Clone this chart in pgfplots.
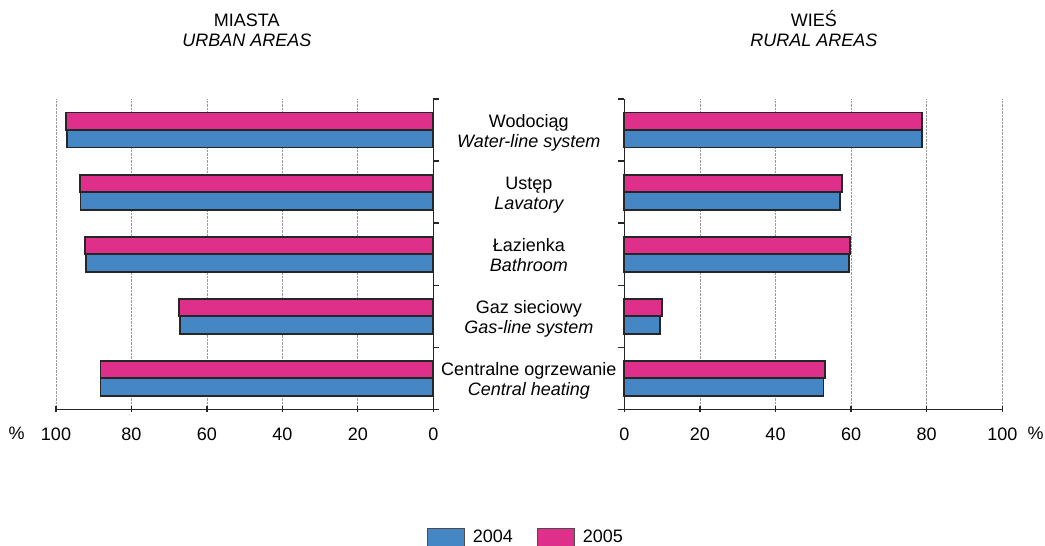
\documentclass[border=0pt]{standalone}
\usepackage{fontspec}
\setmainfont{Liberation Sans}
\usepackage{pgfplots}
\usepackage{pgfplotstable}
\pgfplotsset{compat=1.18}
\definecolor{cpink}{RGB}{222,48,138}
\definecolor{cblue}{RGB}{69,134,197}
\newcommand\fs{\fontsize{18}{20}\selectfont}

\pgfplotstableread{
y u2004 u2005 r2004 r2005
4 -97.1 -97.3 78.8 78.7
3 -93.5 -93.7 57.1 57.5
2 -92.1 -92.3 59.4 59.8
1 -67.2 -67.4 9.5 9.9
0 -88.2 -88.2 52.7 53.1
}\data

\begin{document}
\begin{tikzpicture}
\useasboundingbox (0pt,0pt) rectangle (1045pt,546pt);
\pgfplotsset{common/.style={
  scale only axis, height=310.3pt, anchor=south west,
  ymin=-0.5, ymax=4.5,
  xbar, bar width=17.5pt,
  ytick={-0.5,0.5,1.5,2.5,3.5,4.5}, yticklabels={},
  ytick align=outside, xtick align=center, major tick length=6pt,
  axis x line*=bottom,
  axis line style={-, line width=1.3pt, black!85},
  every tick/.style={black!85, line width=1.3pt},
  xmajorgrids, grid style={densely dotted, gray!80, line width=0.8pt},
  /pgf/number format/assume math mode=true,
  xticklabel style={font=\fs, anchor=base, yshift=-28pt},
  clip=false,
}}
\begin{axis}[common, at={(56pt,136.7pt)}, width=377.3pt,
  xmin=-100, xmax=0, axis y line*=right,
  xtick={-100,-80,-60,-40,-20,0}, xticklabels={100,80,60,40,20,0}]
\addplot[fill=cblue, draw=black!85, line width=1.9pt, bar shift=-8.75pt] table[x=u2004,y=y]{\data};
\addplot[fill=cpink, draw=black!85, line width=1.9pt, bar shift=8.75pt] table[x=u2005,y=y]{\data};
\end{axis}
\begin{axis}[common, at={(624.3pt,136.7pt)}, width=378pt,
  xmin=0, xmax=100, axis y line*=left,
  xtick={0,20,40,60,80,100}]
\addplot[fill=cblue, draw=black!85, line width=1.9pt, bar shift=-8.75pt] table[x=r2004,y=y]{\data};
\addplot[fill=cpink, draw=black!85, line width=1.9pt, bar shift=8.75pt] table[x=r2005,y=y]{\data};
\node[anchor=base, font=\fs] at ([xshift=-95.5pt,yshift=2.5pt]axis cs:0,4) {Wodociąg};
\node[anchor=base, font=\fs\itshape] at ([xshift=-95.5pt,yshift=-17.5pt]axis cs:0,4) {Water-line system};
\node[anchor=base, font=\fs] at ([xshift=-95.5pt,yshift=2.5pt]axis cs:0,3) {Ustęp};
\node[anchor=base, font=\fs\itshape] at ([xshift=-95.5pt,yshift=-17.5pt]axis cs:0,3) {Lavatory};
\node[anchor=base, font=\fs] at ([xshift=-95.5pt,yshift=2.5pt]axis cs:0,2) {Łazienka};
\node[anchor=base, font=\fs\itshape] at ([xshift=-95.5pt,yshift=-17.5pt]axis cs:0,2) {Bathroom};
\node[anchor=base, font=\fs] at ([xshift=-95.5pt,yshift=2.5pt]axis cs:0,1) {Gaz sieciowy};
\node[anchor=base, font=\fs\itshape] at ([xshift=-95.5pt,yshift=-17.5pt]axis cs:0,1) {Gas-line system};
\node[anchor=base, font=\fs] at ([xshift=-95.5pt,yshift=2.5pt]axis cs:0,0) {Centralne ogrzewanie};
\node[anchor=base, font=\fs\itshape] at ([xshift=-95.5pt,yshift=-17.5pt]axis cs:0,0) {Central heating};
\end{axis}
% titles
\node[anchor=base, font=\fs] at (246.8pt,519.3pt) {MIASTA};
\node[anchor=base, font=\fs\itshape] at (246.8pt,499.3pt) {URBAN AREAS};
\node[anchor=base, font=\fs] at (813.8pt,519.3pt) {WIEŚ};
\node[anchor=base, font=\fs\itshape] at (813.8pt,499.3pt) {RURAL AREAS};
% percent signs
\node[anchor=base, font=\fs] at (16.7pt,106pt) {\%};
\node[anchor=base, font=\fs] at (1035.7pt,106pt) {\%};
% legend
\filldraw[fill=cblue, draw=gray!60!black, line width=0.8pt] (427.7pt,-5pt) rectangle (464.3pt,17.7pt);
\node[anchor=base west, inner sep=0pt, font=\fs] at (472.7pt,3pt) {2004};
\filldraw[fill=cpink, draw=gray!60!black, line width=0.8pt] (537.7pt,-5pt) rectangle (574.3pt,17.7pt);
\node[anchor=base west, inner sep=0pt, font=\fs] at (582.7pt,3pt) {2005};
\end{tikzpicture}
\end{document}
